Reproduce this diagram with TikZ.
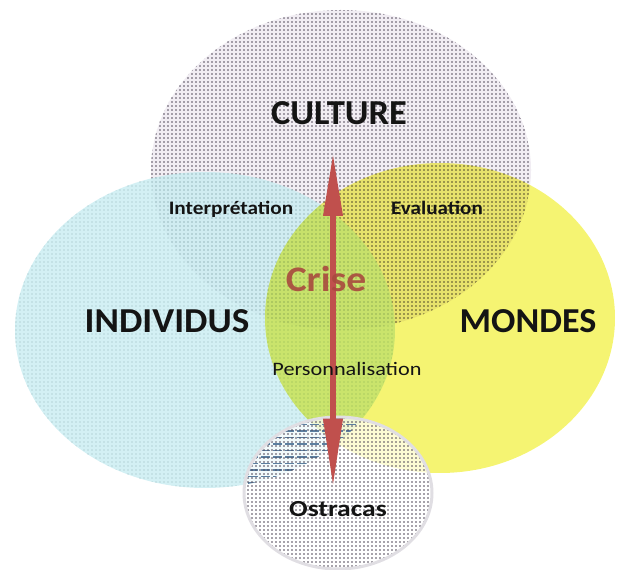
\documentclass[tikz,border=0pt]{standalone}
\usepackage{fontspec}
\setmainfont{Carlito}
\usetikzlibrary{patterns.meta,arrows.meta}
\definecolor{culbase}{HTML}{F1EDF3}
\definecolor{culdot}{HTML}{544C5C}
\definecolor{indbase}{HTML}{C8ECF1}
\definecolor{inddot}{HTML}{93B6BB}
\definecolor{monbase}{HTML}{F5F472}
\definecolor{ostdot}{HTML}{4E4656}
\definecolor{ostdash}{HTML}{5C7FA0}
\definecolor{arrowred}{HTML}{C0504D}
\definecolor{crisered}{HTML}{A94A3E}
\definecolor{ostrim}{HTML}{E0DEE3}
\definecolor{labelink}{HTML}{141414}
\tikzset{
  biglabel/.style={font=\bfseries\fontsize{26.25pt}{30pt}\selectfont, text=labelink, inner sep=0pt, anchor=base},
  smalllabel/.style={font=\bfseries\fontsize{14.25pt}{17pt}\selectfont, text=labelink, inner sep=0pt, anchor=base},
  plainlabel/.style={font=\fontsize{14.25pt}{17pt}\selectfont, text=labelink, inner sep=0pt, anchor=base},
  dotfill/.style={pattern={Dots[distance=3pt,radius=0.72pt]}, pattern color=#1},
  lightdotfill/.style={pattern={Dots[distance=3pt,radius=0.5pt]}, pattern color=#1},
  crisearrow/.style={draw=arrowred, line width=5pt,
    {Triangle[length=48pt,width=13.5pt]}-{Triangle[length=52pt,width=13.5pt]}}
}
\begin{document}
\begin{tikzpicture}[x=0.75pt,y=-0.75pt]
\useasboundingbox (0,0) rectangle (626,570);
% CULTURE
\fill[culbase] (341,170) ellipse [x radius=190, y radius=160];
\fill[dotfill=culdot] (341,170) ellipse [x radius=190, y radius=160];
% INDIVIDUS, semi-transparent over culture
\fill[indbase, opacity=0.8] (205,330) ellipse [x radius=190, y radius=158];
\fill[lightdotfill=inddot] (205,330) ellipse [x radius=190, y radius=158];
% MONDES, multiplied
\begin{scope}[blend mode=multiply]
  \fill[monbase] (440,318) ellipse [x radius=175, y radius=155];
\end{scope}
% OSTRACAS
\fill[white, opacity=0.7] (338,493) ellipse [x radius=94, y radius=76];
\begin{scope}
  \clip (338,493) ellipse [x radius=94, y radius=76];
  \clip (205,330) ellipse [x radius=190, y radius=158];
  \foreach \yy in {418,424.5,...,492}
    \draw[ostdash, line width=1.4pt, dash pattern=on 7pt off 2.2pt] (236,\yy) -- (360,\yy);
\end{scope}
\fill[dotfill=ostdot] (338,493) ellipse [x radius=94, y radius=76];
\draw[ostrim, line width=2.25pt] (338,493) ellipse [x radius=94, y radius=76];
% arrow
\coordinate (arrtop) at (333,152);
\coordinate (arrbot) at (333,488);
\draw[crisearrow] (arrtop) -- (arrbot);
% labels
\node[biglabel] (cult) at (339,125) {\scalebox{1.04}[1]{CULTURE}};
\node[biglabel] (indiv) at (167,333) {\scalebox{1.06}[1]{INDIVIDUS}};
\node[biglabel] (mond) at (528,333) {\scalebox{1.03}[1]{MONDES}};
\node[biglabel, font=\bfseries\fontsize{27pt}{30pt}\selectfont, text=crisered, text opacity=0.9] (crise) at (326,292) {\scalebox{1.1}[1]{Crise}};
\node[smalllabel] (interp) at (231,215) {\scalebox{1.12}[1]{Interprétation}};
\node[smalllabel] (eval) at (437,215) {\scalebox{1.11}[1]{Evaluation}};
\node[plainlabel] (perso) at (347,376) {\scalebox{1.17}[1]{Personnalisation}};
\node[smalllabel, font=\bfseries\fontsize{17.25pt}{20pt}\selectfont] (ostra) at (338,517) {\scalebox{1.2}[1]{Ostracas}};
\end{tikzpicture}
\end{document}
